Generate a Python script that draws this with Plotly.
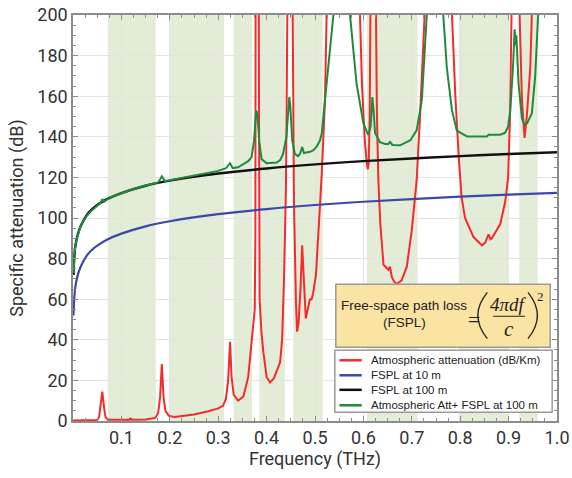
import plotly.graph_objects as go

# ---------------- data ----------------
# Atmospheric attenuation (dB/km); values above 200 run off the top of the chart
atm_freq = [0.000, 0.030, 0.050, 0.054, 0.057, 0.0605, 0.064, 0.067, 0.072, 0.110, 0.117, 0.119, 0.121,
            0.150, 0.170, 0.176, 0.180, 0.1835, 0.187, 0.191, 0.198, 0.210, 0.250, 0.280, 0.300, 0.310,
            0.316, 0.3205, 0.3245, 0.3275, 0.332, 0.341, 0.352, 0.362, 0.369, 0.3755, 0.3768, 0.3775,
            0.3832, 0.3842, 0.3855, 0.389, 0.393, 0.400, 0.407, 0.415, 0.421, 0.424, 0.428, 0.432, 0.436,
            0.440, 0.4435, 0.4445, 0.4525, 0.4537, 0.4565, 0.4606, 0.463, 0.466, 0.470, 0.4735, 0.4765,
            0.481, 0.485, 0.4896, 0.493, 0.496, 0.502, 0.507, 0.514, 0.5206, 0.526, 0.528, 0.590, 0.593,
            0.597, 0.603, 0.607, 0.609, 0.611, 0.613, 0.6145, 0.616, 0.624, 0.6255, 0.628, 0.631, 0.635,
            0.6415, 0.6516, 0.655, 0.6586, 0.664, 0.669, 0.679, 0.6897, 0.700, 0.7068, 0.710, 0.717, 0.722,
            0.7265, 0.729, 0.780, 0.783, 0.790, 0.797, 0.803, 0.810, 0.8275, 0.845, 0.852, 0.8585, 0.8625,
            0.8655, 0.8827, 0.893, 0.899, 0.903, 0.907, 0.909, 0.920, 0.9227, 0.9276, 0.933, 0.9375, 0.9448,
            0.948, 0.950, 1.000]
atm_db_km = [0.3, 0.3, 0.5, 2, 7, 14.5, 7, 2, 0.6, 0.4, 0.6, 1.5, 0.6,
             0.8, 1.5, 4, 12, 28, 12, 5, 2.5, 2, 3.2, 4.8, 6.2, 7.5,
             11, 20, 39, 22, 13, 10, 12, 21.7, 39.7, 55, 90, 250,
             250, 90, 60, 45, 34.6, 21.7, 19, 21, 25, 26, 29, 40, 70,
             115, 200, 250, 250, 200, 108, 59, 44, 48, 65, 86.5, 70,
             50.5, 55, 60, 60, 62.7, 72, 92, 122, 158, 200, 250, 250, 200,
             166, 138, 127, 124, 127, 150, 200, 250, 250, 200, 150, 118, 97,
             77, 74.5, 76, 71, 68.5, 67.5, 69.3, 76, 94, 108.6, 118.5, 150, 180,
             200, 250, 250, 200, 160, 130, 110, 100, 90.6, 86.5, 88, 92, 89.5,
             90, 97, 108, 120, 150, 200, 250, 250, 200, 158, 139.4, 149.8, 174,
             200, 250, 250]

# Free-space path loss curves (dB)
fspl_freq = [0.001, 0.002, 0.004, 0.007, 0.010, 0.015, 0.020, 0.030, 0.040, 0.050, 0.070, 0.100,
             0.150, 0.200, 0.300, 0.400, 0.500, 0.600, 0.700, 0.800, 0.900, 1.000]
fspl_10m = [52, 58, 64.5, 69, 72, 75.5, 78, 82, 84.5, 86.4, 89.3, 92.3,
            95.9, 98.4, 101.9, 104.4, 106.4, 108, 109.3, 110.5, 111.5, 112.4]
fspl_100m = [72, 78, 84.5, 89, 92, 95.5, 98, 102, 104.5, 106.4, 109.3, 112.3,
             115.9, 118.4, 121.9, 124.4, 126.4, 128, 129.3, 130.5, 131.5, 132.4]

# Atmospheric attenuation + FSPL at 100 m (dB)
total_freq = [0.001, 0.002, 0.004, 0.007, 0.010, 0.015, 0.020, 0.030, 0.040, 0.050, 0.057, 0.0605,
              0.064, 0.075, 0.100, 0.125, 0.150, 0.176, 0.1835, 0.190, 0.200, 0.250, 0.300, 0.316,
              0.3245, 0.330, 0.341, 0.352, 0.362, 0.369, 0.374, 0.3775, 0.379, 0.381, 0.383, 0.3847,
              0.3896, 0.400, 0.4207, 0.428, 0.434, 0.441, 0.4455, 0.447, 0.449, 0.451, 0.453, 0.4585,
              0.465, 0.469, 0.4735, 0.477, 0.4896, 0.496, 0.503, 0.510, 0.514, 0.5206, 0.531, 0.538,
              0.540, 0.570, 0.5723, 0.586, 0.600, 0.610, 0.615, 0.6185, 0.621, 0.624, 0.634, 0.645,
              0.6516, 0.655, 0.660, 0.676, 0.697, 0.710, 0.7207, 0.7275, 0.731, 0.733, 0.762, 0.765,
              0.7724, 0.783, 0.793, 0.814, 0.855, 0.8585, 0.8827, 0.893, 0.899, 0.9034, 0.909, 0.9125,
              0.9145, 0.916, 0.9185, 0.9206, 0.9276, 0.933, 0.938, 0.948, 0.955, 0.9587, 0.963, 0.965,
              1.000]
total_db = [73, 79, 84.5, 89, 92, 95.5, 98, 101.5, 104, 106, 107.5, 109.3,
            108, 110, 112.3, 114.3, 116, 117.5, 120.5, 118.2, 118.6, 121, 123.2, 124.5,
            127, 124.6, 125, 126.5, 128, 130, 138, 150, 153, 151, 145, 138,
            129, 127, 127.3, 128.5, 131.6, 140, 155, 159.6, 155, 145, 138, 131.6,
            130.5, 131.5, 135, 132, 132.6, 133.3, 135, 138, 141.6, 158, 182.6, 200,
            220, 220, 200, 166, 146.6, 141, 145, 159.6, 153, 142, 137.4, 136.5,
            136.5, 137.5, 136, 135.8, 138.3, 143.2, 158, 182.6, 200, 220, 220, 200,
            174, 153, 143, 140.2, 140.2, 141, 141, 142, 145, 153, 174, 193,
            185, 190, 175, 166, 149, 146, 146.5, 151.5, 170, 185, 200, 220,
            220]

# Shaded transmission windows (THz)
window_start = [0.072, 0.2005, 0.332, 0.385, 0.455, 0.607, 0.797, 0.922]
window_end = [0.171, 0.312, 0.370, 0.438, 0.516, 0.712, 0.900, 0.960]

x_tickvals = [0.1, 0.2, 0.3, 0.4, 0.5, 0.6, 0.7, 0.8, 0.9, 1.0]
x_ticktext = ["0.1", "0.2", "0.3", "0.4", "0.5", "0.6", "0.7", "0.8", "0.9", "1.0"]

series_names = ["Atmospheric attenuation (dB/Km)", "FSPL at 10 m", "FSPL at 100 m",
                "Atmospheric Att+ FSPL at 100 m"]
series_colors = ["#f52a2a", "#3b48a8", "#111111", "#1f8a3c"]

# ---------------- figure ----------------
fig = go.Figure()
fig.add_trace(go.Scatter(x=atm_freq, y=atm_db_km, mode="lines", name=series_names[0],
                         line=dict(color=series_colors[0], width=2), showlegend=False))
fig.add_trace(go.Scatter(x=fspl_freq, y=fspl_10m, mode="lines", name=series_names[1],
                         line=dict(color=series_colors[1], width=2.2, shape="spline"), showlegend=False))
fig.add_trace(go.Scatter(x=fspl_freq, y=fspl_100m, mode="lines", name=series_names[2],
                         line=dict(color=series_colors[2], width=2.4, shape="spline"), showlegend=False))
fig.add_trace(go.Scatter(x=total_freq, y=total_db, mode="lines", name=series_names[3],
                         line=dict(color=series_colors[3], width=2), showlegend=False))

shapes = []
for x0, x1 in zip(window_start, window_end):
    shapes.append(dict(type="rect", xref="x", yref="y", x0=x0, x1=x1, y0=0, y1=200,
                       fillcolor="#e2ecd6", line=dict(width=0), layer="below"))

# formula box
shapes.append(dict(type="rect", xref="paper", yref="paper", x0=0.543, x1=0.986, y0=0.1815, y1=0.3367,
                   fillcolor="#fae3a3", line=dict(color="#9a9a9a", width=1.5), layer="above"))
# fraction bar
shapes.append(dict(type="line", xref="paper", yref="paper", x0=0.868, x1=0.934, y0=0.258, y1=0.258,
                   line=dict(color="#222222", width=1.2), layer="above"))
# thin parentheses drawn as curves
shapes.append(dict(type="path", xref="paper", yref="paper",
                   path="M 0.8560,0.3170 Q 0.8170,0.2600 0.8560,0.2030",
                   line=dict(color="#222222", width=1.3), layer="above"))
shapes.append(dict(type="path", xref="paper", yref="paper",
                   path="M 0.9400,0.3170 Q 0.9790,0.2600 0.9400,0.2030",
                   line=dict(color="#222222", width=1.3), layer="above"))
# legend box
shapes.append(dict(type="rect", xref="paper", yref="paper", x0=0.541, x1=0.990, y0=0.0214, y1=0.174,
                   fillcolor="white", line=dict(color="#9a9a9a", width=1.5), layer="above"))
legend_rows = [0.1495, 0.1126, 0.0768, 0.0387]
annotations = []
for name, color, yy in zip(series_names, series_colors, legend_rows):
    shapes.append(dict(type="line", xref="paper", yref="paper", x0=0.5505, x1=0.5966, y0=yy, y1=yy,
                       line=dict(color=color, width=2.5), layer="above"))
    annotations.append(dict(xref="paper", yref="paper", x=0.6116, y=yy, text=name, showarrow=False,
                            xanchor="left", yanchor="middle",
                            font=dict(family="Liberation Sans", size=11.5, color="#222222")))

serif = "Liberation Serif"
annotations += [
    dict(xref="paper", yref="paper", x=0.6835, y=0.285, text="Free-space path loss", showarrow=False,
         xanchor="center", yanchor="middle", font=dict(family="Liberation Sans", size=13.5, color="#222")),
    dict(xref="paper", yref="paper", x=0.684, y=0.2414, text="(FSPL)", showarrow=False,
         xanchor="center", yanchor="middle", font=dict(family="Liberation Sans", size=13.5, color="#222")),
    dict(xref="paper", yref="paper", x=0.8275, y=0.2505, text="=", showarrow=False,
         xanchor="center", yanchor="middle", font=dict(family=serif, size=22, color="#222")),
    dict(xref="paper", yref="paper", x=0.900, y=0.287, text="<i>4πdf</i>", showarrow=False,
         xanchor="center", yanchor="middle", font=dict(family=serif, size=19, color="#222")),
    dict(xref="paper", yref="paper", x=0.9013, y=0.226, text="<i>c</i>", showarrow=False,
         xanchor="center", yanchor="middle", font=dict(family=serif, size=21, color="#222")),
    dict(xref="paper", yref="paper", x=0.9650, y=0.3060, text="2", showarrow=False,
         xanchor="center", yanchor="middle", font=dict(family=serif, size=13, color="#222")),
]

axis_font = dict(family="Roboto", size=18, color="#333333")
fig.update_layout(
    width=572, height=478,
    margin=dict(l=73, r=15, t=15, b=57, autoexpand=False),
    paper_bgcolor="white", plot_bgcolor="white",
    shapes=shapes, annotations=annotations,
    showlegend=False,
    xaxis=dict(range=[0, 1.0], tickvals=x_tickvals, ticktext=x_ticktext, automargin=False,
               title=dict(text="Frequency (THz)", font=axis_font, standoff=1),
               tickfont=axis_font, showgrid=True, gridcolor="#e3e3e3", gridwidth=1,
               showline=True, linecolor="#8c8c8c", linewidth=1.5, mirror="ticks",
               ticks="inside", ticklen=5, tickcolor="#8c8c8c", zeroline=False,
               minor=dict(dtick=0.025, tick0=0, ticks="inside", ticklen=3, tickcolor="#8c8c8c",
                          showgrid=False)),
    yaxis=dict(range=[0, 200], tick0=0, dtick=20, automargin=False,
               title=dict(text="Specific attenuation (dB)", font=axis_font, standoff=9),
               tickfont=axis_font, showgrid=True, gridcolor="#e3e3e3", gridwidth=1,
               showline=True, linecolor="#8c8c8c", linewidth=1.5, mirror="ticks",
               ticks="inside", ticklen=5, tickcolor="#8c8c8c", zeroline=False,
               minor=dict(dtick=5, tick0=0, ticks="inside", ticklen=3, tickcolor="#8c8c8c",
                          showgrid=False)),
)

# remove the page's default body margin so the 572x478 figure fills the window exactly
fig.write_html("out.html", config={"displayModeBar": False},
               post_script="document.body.style.margin='0px';")
